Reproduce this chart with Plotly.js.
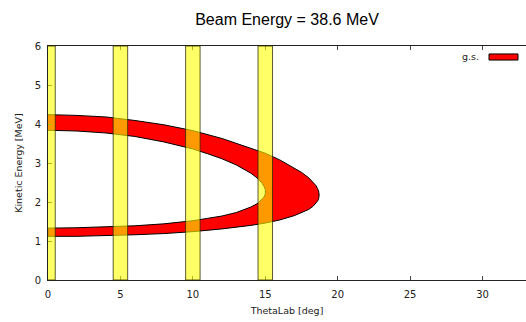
<!DOCTYPE html>
<html>
<head>
<meta charset="utf-8">
<script src="https://cdn.plot.ly/plotly-3.0.1.min.js"></script>
<style>html,body{margin:0;padding:0;background:#fff;}#chart{width:526px;height:322px;}</style>
</head>
<body>
<div id="chart"></div>
<script>
// Outer boundary of the g.s. kinematic band
const outerTheta = [0, 2, 4, 6, 8, 10, 12, 14, 15, 16, 17, 17.5, 18, 18.3, 18.5, 18.6, 18.68, 18.72];
const outerUpper = [4.24, 4.22, 4.18, 4.09, 3.98, 3.83, 3.63, 3.39, 3.25, 3.08, 2.88, 2.76, 2.62, 2.51, 2.42, 2.35, 2.28, 2.18];
const outerLower = [1.12, 1.12, 1.14, 1.16, 1.19, 1.24, 1.31, 1.40, 1.46, 1.54, 1.65, 1.72, 1.81, 1.89, 1.97, 2.02, 2.08, 2.18];
// Inner boundary of the band
const innerTheta = [0, 2, 4, 6, 8, 10, 11, 12, 13, 14, 14.5, 14.8, 14.9, 15.0, 15.02];
const innerUpper = [3.84, 3.82, 3.77, 3.68, 3.54, 3.36, 3.24, 3.11, 2.95, 2.74, 2.60, 2.47, 2.41, 2.32, 2.26];
const innerLower = [1.33, 1.34, 1.36, 1.39, 1.44, 1.52, 1.58, 1.64, 1.73, 1.87, 1.97, 2.07, 2.12, 2.20, 2.26];
// Detector angle windows (centres, deg) and half width
const bandCenters = [0, 5, 10, 15];
const bandHalfWidth = 0.5;
const xTicks = [0, 5, 10, 15, 20, 25, 30];
const yTicks = [0, 1, 2, 3, 4, 5, 6];
const seriesName = 'g.s.';

const rev = a => a.slice().reverse();
const px = [].concat(outerTheta, rev(outerTheta).slice(1), innerTheta, rev(innerTheta).slice(1));
const py = [].concat(outerUpper, rev(outerLower).slice(1), innerLower, rev(innerUpper).slice(1));

const band = {
  x: px, y: py, type: 'scatter', mode: 'lines', fill: 'toself',
  fillcolor: '#ff0000', line: {color: '#000000', width: 1}, name: seriesName,
  hoverinfo: 'skip'
};

const shapes = bandCenters.map(c => ({
  type: 'rect', xref: 'x', yref: 'paper', x0: c - bandHalfWidth, x1: c + bandHalfWidth, y0: 0, y1: 1,
  fillcolor: 'rgba(255,255,0,0.6)', line: {color: 'rgba(40,40,0,0.75)', width: 1}, layer: 'above'
}));
// manual legend key (gnuplot style: text left, sample right)
shapes.push({type: 'rect', xref: 'paper', yref: 'paper', x0: 0.9226, x1: 0.9833, y0: 0.940, y1: 0.966,
  fillcolor: '#ff0000', line: {color: '#000', width: 1}, layer: 'above'});

const tickFont = {family: 'DejaVu Sans, Verdana, sans-serif', size: 10, color: '#222'};
const labelFont = {family: 'DejaVu Sans, Verdana, sans-serif', size: 9.5, color: '#222'};

const layout = {
  width: 526, height: 322,
  margin: {l: 48, r: 0, t: 46, b: 42},
  paper_bgcolor: '#fff', plot_bgcolor: '#fff',
  showlegend: false,
  title: {text: 'Beam Energy = 38.6 MeV', x: 0.5, xref: 'paper', xanchor: 'center',
          y: 0.94, yref: 'container', yanchor: 'middle',
          font: {family: 'Liberation Sans, Arial, sans-serif', size: 16, color: '#000'}},
  xaxis: {range: [0, 33], tickvals: xTicks, ticks: 'inside', ticklen: 4, tickcolor: '#444',
          showline: true, linecolor: '#222', linewidth: 1, mirror: 'ticks', showgrid: false, zeroline: false,
          tickfont: tickFont, ticklabelstandoff: 5,
          title: {text: 'ThetaLab [deg]', font: labelFont, standoff: 8}},
  yaxis: {range: [0, 6], tickvals: yTicks, ticks: 'inside', ticklen: 4, tickcolor: '#444',
          showline: true, linecolor: '#222', linewidth: 1, mirror: false, showgrid: false, zeroline: false,
          tickfont: tickFont, ticklabelstandoff: 4,
          title: {text: 'Kinetic Energy [MeV]', font: labelFont, standoff: 10}},
  shapes: shapes,
  annotations: [{text: seriesName, xref: 'paper', yref: 'paper', x: 0.906, y: 0.953, xanchor: 'right',
                 yanchor: 'middle', showarrow: false, font: labelFont}]
};

Plotly.newPlot('chart', [band], layout, {staticPlot: true, displayModeBar: false});
</script>
</body>
</html>
